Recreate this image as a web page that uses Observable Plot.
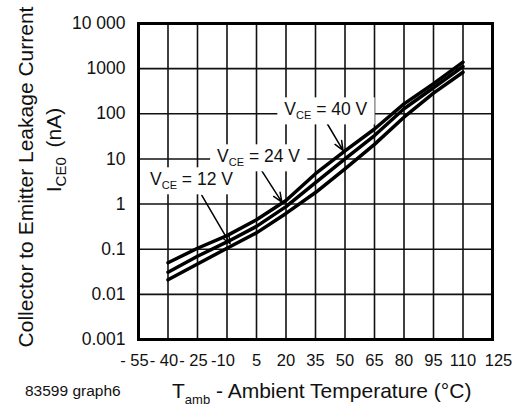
<!DOCTYPE html>
<html><head><meta charset="utf-8">
<script src="https://cdn.jsdelivr.net/npm/d3@7"></script>
<script src="https://cdn.jsdelivr.net/npm/@observablehq/plot@0.6"></script>
<style>
html,body{margin:0;padding:0;background:#fff;}
svg text{font-family:"Liberation Sans",Arial,Helvetica,sans-serif;}
</style></head><body>
<div id="chart"></div>
<script>
// ---- data ----
const temps = [-40, -25, -10, 5, 20, 35, 50, 65, 80, 95, 110];
const ice0_40V = [0.05, 0.105, 0.2, 0.45, 1.2, 4.7, 15, 46, 166, 462, 1390];
const ice0_24V = [0.031, 0.07, 0.145, 0.32, 0.88, 3.0, 10, 33, 129, 377, 1117];
const ice0_12V = [0.021, 0.047, 0.105, 0.23, 0.62, 1.8, 6.0, 21, 84, 286, 834];
const seriesNames = ["12 V", "24 V", "40 V"];
const xTicks = [-55, -40, -25, -10, 5, 20, 35, 50, 65, 80, 95, 110, 125];
const xTickLabels = ["- 55", "- 40", "- 25", "-10", "5", "20", "35", "50", "65", "80", "95", "110", "125"];
const yTicks = [0.001, 0.01, 0.1, 1, 10, 100, 1000, 10000];
const yTickLabels = ["0.001", "0.01", "0.1", "1", "10", "100", "1000", "10 000"];

// annotation anchors (data units)
const annotations = [
  {main: "V", sub: "CE", rest: " = 40 V", tx: 40.5, ty: 124, x1: 40, y1: 71, x2: 49, y2: 15.4},
  {main: "V", sub: "CE", rest: " = 24 V", tx: 6.3, ty: 11.3, x1: 5.9, y1: 7.2, x2: 17.9, y2: 1.1},
  {main: "V", sub: "CE", rest: " = 12 V", tx: -27.8, ty: 3.5, x1: -22.8, y1: 1.55, x2: -8.4, y2: 0.132}
];

const valuesBySeries = [ice0_12V, ice0_24V, ice0_40V];
const rows = seriesNames.flatMap((s, k) => temps.map((t, i) => ({t, v: valuesBySeries[k][i], s})));

const chart = Plot.plot({
  width: 519, height: 406,
  marginLeft: 138, marginRight: 27, marginTop: 23, marginBottom: 67,
  style: {fontFamily: "Liberation Sans, Arial, sans-serif", fontSize: "17.5px", color: "#111", background: "#fff"},
  x: {domain: [-55, 125], ticks: xTicks, tickFormat: d => xTickLabels[xTicks.indexOf(d)], tickSize: 0, tickPadding: 15, label: null},
  y: {type: "log", domain: [0.001, 10000], ticks: yTicks, tickFormat: d => yTickLabels[yTicks.indexOf(d)], tickSize: 0, tickPadding: 13, label: null},
  marks: [
    Plot.ruleX(xTicks, {stroke: "#111", strokeWidth: 1.6}),
    Plot.ruleY(yTicks, {stroke: "#111", strokeWidth: 1.6}),
    Plot.line(rows, {x: "t", y: "v", z: "s", stroke: "#000", strokeWidth: 3.5}),
    Plot.arrow(annotations, {x1: "x1", y1: "y1", x2: "x2", y2: "y2", stroke: "#000", strokeWidth: 1.5, headLength: 10, headAngle: 45}),
    Plot.frame({stroke: "#000", strokeWidth: 3})
  ]
});
document.getElementById("chart").append(chart);

const svg = d3.select(chart);
const sx = chart.scale("x"), sy = chart.scale("y");
const X = d3.scaleLinear(sx.domain, sx.range);
const Y = d3.scaleLog(sy.domain, sy.range);
const font = "Liberation Sans, Arial, sans-serif";

// x tick labels: slightly smaller, nudged like the original
svg.selectAll('[aria-label="x-axis tick label"] text, [aria-label="x-axis"] text')
  .style("font-size", "16.5px")
  .attr("dx", function () {
    const s = this.textContent;
    return s.startsWith("-") ? -4 : s === "125" ? 6 : 0;
  });

// annotation labels with white boxes
const lg = svg.append("g");
for (const a of annotations) {
  const g = lg.append("g");
  const t = g.append("text")
    .attr("x", X(a.tx)).attr("y", Y(a.ty)).attr("dy", "0.36em")
    .attr("text-anchor", "middle").attr("font-size", 17.5).attr("font-family", font).attr("fill", "#111");
  t.append("tspan").text(a.main);
  t.append("tspan").attr("font-size", 11).attr("dy", 4).text(a.sub);
  t.append("tspan").attr("dy", -4).text(a.rest);
  const b = t.node().getBBox();
  g.insert("rect", "text").attr("x", b.x - 7).attr("y", b.y - 2).attr("width", b.width + 14).attr("height", b.height + 5).attr("fill", "#fff");
}

// y title (two lines)
svg.append("text").attr("transform", "translate(33,177) rotate(-90)")
  .attr("text-anchor", "middle").attr("font-size", 21).attr("font-family", font).attr("fill", "#111")
  .text("Collector to Emitter Leakage Current");
const yt2 = svg.append("text").attr("transform", "translate(61,150) rotate(-90)")
  .attr("text-anchor", "middle").attr("font-size", 21).attr("font-family", font).attr("fill", "#111");
yt2.append("tspan").text("I");
yt2.append("tspan").attr("font-size", 15).attr("dy", 5).text("CE0");
yt2.append("tspan").attr("dy", -5).attr("dx", 4).text(" (nA)");

// x title
const xt = svg.append("text").attr("x", 172).attr("y", 398).attr("text-anchor", "start")
  .attr("font-size", 21).attr("font-family", font).attr("fill", "#111");
xt.append("tspan").text("T");
xt.append("tspan").attr("font-size", 13).attr("dy", 6).text("amb");
xt.append("tspan").attr("dy", -6).text(" - Ambient Temperature (°C)");

// footnote
svg.append("text").attr("x", 25).attr("y", 396).attr("text-anchor", "start")
  .attr("font-size", 15.5).attr("font-family", font).attr("fill", "#111").text("83599 graph6");
</script>
</body></html>
